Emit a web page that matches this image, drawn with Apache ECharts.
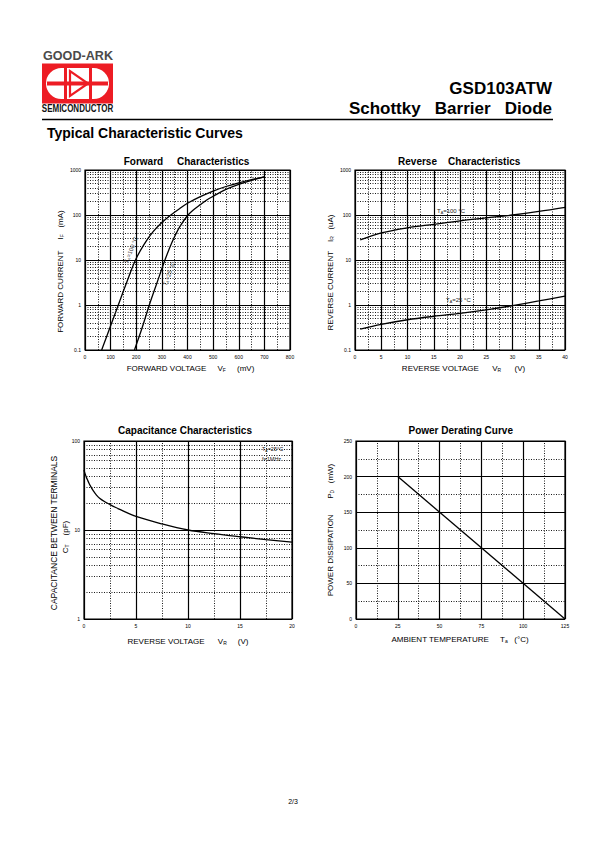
<!DOCTYPE html>
<html><head><meta charset="utf-8">
<script src="https://cdn.jsdelivr.net/npm/echarts/dist/echarts.min.js"></script>
<style>html,body{margin:0;padding:0;background:#fff}#c{width:595px;height:842px}</style>
</head><body><div id="c"></div>
<script>
// ---------- DATA ----------
// Forward characteristics (VF in mV, IF in mA)
const fwdV100 = [65, 96, 130, 161, 197, 230, 265, 300, 335, 370, 400, 450, 500, 550, 600, 650, 700];
const fwdI100 = [0.1, 0.3, 1, 3, 10, 22, 42, 68, 100, 140, 182, 255, 340, 430, 520, 610, 700];
const fwdV25  = [193, 222, 251, 280, 312, 340, 370, 402, 425, 450, 475, 500, 550, 600, 650, 700];
const fwdI25  = [0.1, 0.3, 1, 3, 10, 25, 55, 100, 133, 170, 215, 260, 370, 480, 590, 700];
// Reverse characteristics (VR in V, IR in uA)
const revV    = [1, 5, 10, 15, 20, 25, 30, 35, 40];
const revI100 = [28, 40, 52, 62, 74, 86, 100, 120, 148];
const revI25  = [0.29, 0.37, 0.47, 0.56, 0.65, 0.78, 0.97, 1.23, 1.58];
// Capacitance (VR in V, CT in pF)
const capV = [0, 0.1, 0.2, 0.3, 0.4, 0.6, 0.9, 1.2, 1.5, 2, 2.5, 3, 3.5, 5, 7.5, 10, 12.5, 15, 17.5, 20];
const capC = [47, 43, 40, 37.3, 35.2, 31.5, 27.5, 24.7, 22.8, 20.8, 19.3, 18, 16.9, 14.2, 11.7, 10, 9.1, 8.4, 7.8, 7.3];
// Power derating (Ta in C, PD in mW)
const powT = [25, 125];
const powP = [200, 0];
// Tick settings [min, max, interval]
const fwdXTicks = [0, 800, 100];
const revXTicks = [0, 40, 5];
const capXTicks = [0, 20, 5];
const powXTicks = [0, 125, 25];
const powYTicks = [0, 250, 50];

// ---------- HELPERS ----------
const F = '"Liberation Sans", Arial, sans-serif';
const zip = (a, b) => a.map((v, i) => [v, b[i]]);
function logMinors(lo, hi) { const r = []; for (let d = lo; d < hi; d *= 10) for (let k = 2; k <= 9; k++) r.push(+(d * k).toPrecision(3)); return r; }
function halfSteps(min, max, step) { const r = []; for (let v = min + step / 2; v < max; v += step) r.push(v); return r; }
function dotted(xs, ys) {
  return {
    silent: true, symbol: ['none', 'none'], animation: false,
    label: { show: false },
    lineStyle: { type: [1, 1.5], color: '#000', width: 0.9 },
    emphasis: { disabled: true },
    data: xs.map(v => ({ xAxis: v })).concat(ys.map(v => ({ yAxis: v })))
  };
}
const axCommon = {
  axisLine: { show: false }, axisTick: { show: false },
  splitLine: { show: true, lineStyle: { color: '#000', width: 1.2 } },
  axisLabel: { fontSize: 5, color: '#000', fontFamily: F, margin: 4,
    formatter: v => String(parseFloat((+v).toPrecision(4))) }
};
function xAx(gi, t) { return Object.assign({ gridIndex: gi, type: 'value', min: t[0], max: t[1], interval: t[2] }, axCommon); }
function logAx(gi, min, max) { return Object.assign({ gridIndex: gi, type: 'log', logBase: 10, min, max }, axCommon); }
function lineSeries(gi, data, md) {
  const s = { type: 'line', xAxisIndex: gi, yAxisIndex: gi, data, smooth: 0.35, showSymbol: false,
    lineStyle: { color: '#000', width: 1.3 }, silent: true };
  if (md) s.markLine = md;
  return s;
}
function txt(x, y, text, o) {
  o = o || {};
  const fs = o.fs || 8;
  const fill = o.fill || '#000';
  const rich = o.sub ? { s: { fontSize: fs * 0.62, fontFamily: F, fill, verticalAlign: 'bottom' } } : undefined;
  return { type: 'text', x, y, rotation: o.rot || 0, scaleX: o.sx || 1, silent: true, z: 100,
    style: { text, fontSize: fs, fontFamily: F, fontWeight: o.fw || 'normal', fill,
      align: o.align || 'center', verticalAlign: o.va || 'middle', lineHeight: fs * 1.3, rich } };
}
const sp = n => '\u00a0'.repeat(n);
const R90 = Math.PI / 2;

// ---------- OPTION ----------
const gridStyle = { show: true, borderColor: '#000', borderWidth: 1.2, backgroundColor: 'transparent' };
const option = {
  animation: false,
  backgroundColor: '#fff',
  grid: [
    Object.assign({ left: 85, top: 170, width: 205, height: 180 }, gridStyle),
    Object.assign({ left: 355, top: 170, width: 210, height: 180 }, gridStyle),
    Object.assign({ left: 84, top: 441, width: 208, height: 178 }, gridStyle),
    Object.assign({ left: 356, top: 441, width: 209, height: 178 }, gridStyle)
  ],
  xAxis: [xAx(0, fwdXTicks), xAx(1, revXTicks), xAx(2, capXTicks), xAx(3, powXTicks)],
  yAxis: [logAx(0, 0.1, 1000), logAx(1, 0.1, 1000), logAx(2, 1, 100),
    Object.assign({ gridIndex: 3, type: 'value', min: powYTicks[0], max: powYTicks[1], interval: powYTicks[2] }, axCommon)],
  series: [
    lineSeries(0, zip(fwdV100, fwdI100), dotted(halfSteps(0, 800, 100), logMinors(0.1, 1000))),
    lineSeries(0, zip(fwdV25, fwdI25)),
    lineSeries(1, zip(revV, revI100), dotted(halfSteps(0, 40, 5), logMinors(0.1, 1000))),
    lineSeries(1, zip(revV, revI25)),
    lineSeries(2, zip(capV, capC), dotted(halfSteps(0, 20, 5), logMinors(1, 100))),
    Object.assign(lineSeries(3, zip(powT, powP), dotted(halfSteps(0, 125, 25), halfSteps(0, 250, 50))), { smooth: false })
  ],
  graphic: [
    // logo
    txt(78, 56.5, 'GOOD-ARK', { fs: 12, fw: 'bold', fill: '#4a4a4a', sx: 1.05 }),
    { type: 'rect', shape: { x: 42, y: 63.5, width: 71, height: 40 }, style: { fill: '#ED1C24' }, silent: true },
    { type: 'rect', shape: { x: 46, y: 68, width: 63, height: 31, r: 15.5 }, style: { fill: '#fff' }, silent: true },
    { type: 'rect', shape: { x: 64, y: 68, width: 3, height: 31 }, style: { fill: '#ED1C24' }, silent: true },
    { type: 'rect', shape: { x: 89, y: 68, width: 3, height: 31 }, style: { fill: '#ED1C24' }, silent: true },
    { type: 'polygon', shape: { points: [[70, 71], [70, 96], [88, 83.5]] }, style: { fill: '#fff', stroke: '#ED1C24', lineWidth: 2.2 }, silent: true },
    { type: 'rect', shape: { x: 47, y: 81.5, width: 61, height: 4 }, style: { fill: '#ED1C24' }, silent: true },
    txt(77.5, 109, 'SEMICONDUCTOR', { fs: 10, fw: 'bold', fill: '#111', sx: 0.8 }),
    // header
    txt(552, 88, 'GSD103ATW', { fs: 17, fw: 'bold', align: 'right' }),
    txt(552, 108, 'Schottky' + sp(3) + 'Barrier' + sp(3) + 'Diode', { fs: 17, fw: 'bold', align: 'right' }),
    { type: 'line', shape: { x1: 42, y1: 119.5, x2: 553, y2: 119.5 }, style: { stroke: '#000', lineWidth: 1.5 }, silent: true },
    txt(47, 133, 'Typical Characteristic Curves', { fs: 14, fw: 'bold', align: 'left' }),
    // chart titles
    txt(186.5, 161, 'Forward' + sp(5) + 'Characteristics', { fs: 10, fw: 'bold' }),
    txt(459.2, 161, 'Reverse' + sp(4) + 'Characteristics', { fs: 10, fw: 'bold' }),
    txt(185, 430, 'Capacitance Characteristics', { fs: 10, fw: 'bold' }),
    txt(460.7, 430, 'Power Derating Curve', { fs: 10, fw: 'bold' }),
    // axis titles
    txt(190.5, 368, 'FORWARD VOLTAGE' + sp(5) + 'V{s|F}' + sp(5) + '(mV)', { fs: 8, sub: true }),
    txt(60, 271.5, 'FORWARD CURRENT' + sp(5) + 'I{s|F}' + sp(3) + '(mA)', { fs: 8, sub: true, rot: R90 }),
    txt(463.5, 368, 'REVERSE VOLTAGE' + sp(6) + 'V{s|R}' + sp(6) + '(V)', { fs: 8, sub: true }),
    txt(330, 272.5, 'REVERSE CURRENT' + sp(4) + 'I{s|R}' + sp(3) + '(uA)', { fs: 8, sub: true, rot: R90 }),
    txt(188, 641, 'REVERSE VOLTAGE' + sp(6) + 'V{s|R}' + sp(5) + '(V)', { fs: 8, sub: true }),
    txt(54, 533, 'CAPACITANCE BETWEEN TERMINALS', { fs: 8.5, rot: R90 }),
    txt(65, 537, 'C{s|T}' + sp(4) + '(pF)', { fs: 8, sub: true, rot: R90 }),
    txt(460, 639, 'AMBIENT TEMPERATURE' + sp(5) + 'T{s|a}' + sp(3) + '(°C)', { fs: 8, sub: true }),
    txt(330, 530, 'POWER DISSIPATION' + sp(7) + 'P{s|D}' + sp(3) + '(mW)', { fs: 8, sub: true, rot: R90 }),
    // curve labels
    txt(131, 250, 'T{s|A}=100 °C', { fs: 6, sub: true, fill: '#333', rot: 69 * Math.PI / 180 }),
    txt(169, 274, 'T{s|A}=25 °C', { fs: 6, sub: true, fill: '#333', rot: 69 * Math.PI / 180 }),
    txt(437, 211, 'T{s|A}=100 °C', { fs: 6, sub: true, fill: '#222', align: 'left' }),
    txt(446, 300, 'T{s|A}=25 °C', { fs: 6, sub: true, fill: '#222', align: 'left' }),
    txt(262, 448.5, 'T{s|A}=25°C', { fs: 5.5, sub: true, fill: '#222', align: 'left' }),
    txt(262, 459, 'f=1MHz', { fs: 5.5, fill: '#222', align: 'left' }),
    // page number
    txt(293, 801, '2/3', { fs: 7 })
  ]
};
const chart = echarts.init(document.getElementById('c'), null, { renderer: 'svg', width: 595, height: 842 });
chart.setOption(option);
</script>
</body></html>
